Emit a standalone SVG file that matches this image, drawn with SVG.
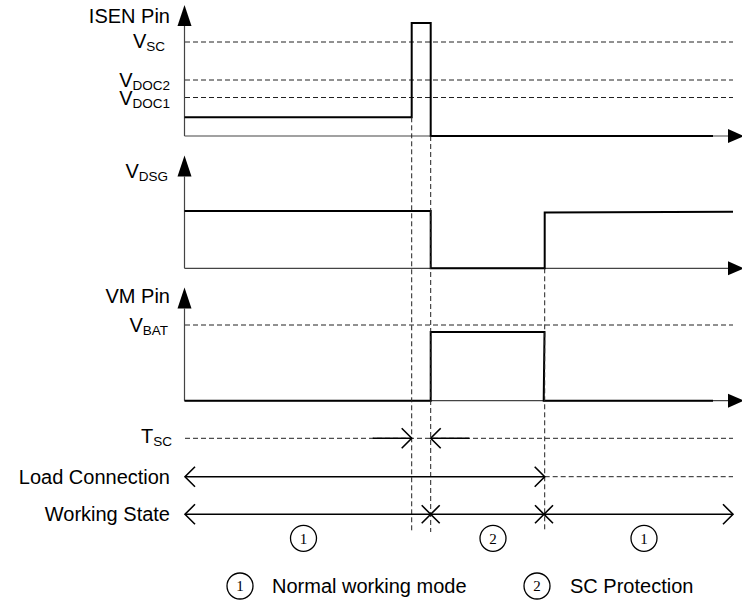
<svg xmlns="http://www.w3.org/2000/svg" width="742" height="605" viewBox="0 0 742 605">
  <style>
    .axis { stroke: #444; stroke-width: 1.2; fill: none; }
    .sig { stroke: #000; stroke-width: 2; fill: none; stroke-linejoin: miter; }
    .ref { stroke: #222; stroke-width: 1; stroke-dasharray: 5 3; fill: none; }
    .tl { stroke: #000; stroke-width: 1.6; fill: none; }
    .lbl { font-family: "Liberation Sans", Arial, sans-serif; font-size: 20px; fill: #000; }
    .sub { font-size: 13.5px; }
    .num { font-family: "Liberation Serif", "Times New Roman", serif; font-size: 15px; fill: #000; text-anchor: middle; }
    .ring { stroke: #000; stroke-width: 1.3; fill: #fff; }
  </style>
  <defs>
    <marker id="tri-v" markerUnits="userSpaceOnUse" viewBox="0 0 21 14" markerWidth="21" markerHeight="14" refX="0" refY="7" orient="auto" overflow="visible">
      <path d="M0,0 L21,7 L0,14 Z" fill="#000"/>
    </marker>
    <marker id="tri-h" markerUnits="userSpaceOnUse" viewBox="0 0 16 14" markerWidth="16" markerHeight="14" refX="0" refY="7" orient="auto" overflow="visible">
      <path d="M0,0 L16,7 L0,14 Z" fill="#000"/>
    </marker>
    <marker id="chev" markerUnits="userSpaceOnUse" viewBox="0 0 12 22" markerWidth="12" markerHeight="22" refX="11" refY="11" orient="auto-start-reverse" overflow="visible">
      <path d="M1,1 L11,11 L1,21" fill="none" stroke="#000" stroke-width="1.6"/>
    </marker>
    <path id="cross" d="M-9,-9 L9,9 M-9,9 L9,-9" stroke="#000" stroke-width="1.6" fill="none"/>
  </defs>

  <!-- ISEN pin waveform -->
  <g id="isen">
    <line class="ref" x1="185" y1="42" x2="733" y2="42"/>
    <line class="ref" x1="185" y1="80" x2="733" y2="80"/>
    <line class="ref" x1="185" y1="97.5" x2="733" y2="97.5"/>
    <line class="axis" x1="184.5" y1="136" x2="184.5" y2="26" marker-end="url(#tri-v)"/>
    <line class="axis" x1="184.5" y1="136" x2="728" y2="136" marker-end="url(#tri-h)"/>
    <polyline class="sig" points="184.5,117.3 411.7,117.3 411.7,23 430.7,23 430.7,136 713,136"/>
    <text class="lbl" x="170" y="23" text-anchor="end">ISEN Pin</text>
    <text class="lbl" x="165" y="48" text-anchor="end">V<tspan class="sub" dy="3">SC</tspan></text>
    <text class="lbl" x="170" y="87" text-anchor="end">V<tspan class="sub" dy="2.5">DOC2</tspan></text>
    <text class="lbl" x="170" y="105" text-anchor="end">V<tspan class="sub" dy="2.5">DOC1</tspan></text>
  </g>

  <!-- discharge gate drive waveform -->
  <g id="vdsg">
    <line class="axis" x1="184.5" y1="268.3" x2="184.5" y2="176.5" marker-end="url(#tri-v)"/>
    <line class="axis" x1="184.5" y1="268.3" x2="728" y2="268.3" marker-end="url(#tri-h)"/>
    <polyline class="sig" points="184.5,211 430.7,211 430.7,268.3 544.7,268.3 544.7,212.5 733,211.7"/>
    <text class="lbl" x="168" y="178" text-anchor="end">V<tspan class="sub" dy="3">DSG</tspan></text>
  </g>

  <!-- VM pin waveform -->
  <g id="vm">
    <line class="ref" x1="185" y1="325" x2="733" y2="325"/>
    <line class="axis" x1="184.5" y1="400.7" x2="184.5" y2="308.5" marker-end="url(#tri-v)"/>
    <line class="axis" x1="184.5" y1="400.7" x2="728" y2="400.7" marker-end="url(#tri-h)"/>
    <polyline class="sig" points="184.5,400.7 430.7,400.7 430.7,332 544.5,332 543.7,400.7 713,400.7"/>
    <text class="lbl" x="170" y="302.5" text-anchor="end">VM Pin</text>
    <text class="lbl" x="168" y="332" text-anchor="end">V<tspan class="sub" dy="3">BAT</tspan></text>
  </g>

  <!-- short-circuit delay -->
  <g id="tsc">
    <line class="ref" x1="185" y1="438.3" x2="733" y2="438.3"/>
    <text class="lbl" x="172" y="443" text-anchor="end">T<tspan class="sub" dy="3">SC</tspan></text>
  </g>

  <!-- load connection -->
  <g id="load">
    <line class="ref" x1="544.7" y1="476.7" x2="733" y2="476.7"/>
    <text class="lbl" x="170" y="483.5" text-anchor="end">Load Connection</text>
  </g>

  <!-- working state -->
  <g id="state">
    <text class="lbl" x="170" y="521" text-anchor="end">Working State</text>
    <circle class="ring" cx="303.5" cy="538.3" r="13"/>
    <text class="num" x="303.5" y="543.5">1</text>
    <circle class="ring" cx="493" cy="538.3" r="13"/>
    <text class="num" x="493" y="543.5">2</text>
    <circle class="ring" cx="644" cy="538.3" r="13"/>
    <text class="num" x="644" y="543.5">1</text>
  </g>

  <!-- legend -->
  <g id="legend">
    <circle class="ring" cx="240" cy="586" r="13"/>
    <text class="num" x="240" y="591.2">1</text>
    <text class="lbl" x="272" y="592.5">Normal working mode</text>
    <circle class="ring" cx="537" cy="586" r="13"/>
    <text class="num" x="537" y="591.2">2</text>
    <text class="lbl" x="570" y="592.5">SC Protection</text>
  </g>

  <!-- timing markers and time-span arrows -->
  <g id="connectors">
    <line class="ref" x1="411.7" y1="117.3" x2="411.7" y2="532"/>
    <line class="ref" x1="430.7" y1="136" x2="430.7" y2="532"/>
    <line class="ref" x1="544.7" y1="268.3" x2="544.7" y2="532"/>
    <line class="tl" x1="372.7" y1="438.3" x2="411.7" y2="438.3" marker-end="url(#chev)"/>
    <line class="tl" x1="469.3" y1="438.3" x2="430.7" y2="438.3" marker-end="url(#chev)"/>
    <line class="tl" x1="185" y1="476.7" x2="544.7" y2="476.7" marker-start="url(#chev)" marker-end="url(#chev)"/>
    <line class="tl" x1="185" y1="514.3" x2="733" y2="514.3" marker-start="url(#chev)" marker-end="url(#chev)"/>
    <use href="#cross" x="430.7" y="514.3"/>
    <use href="#cross" x="544" y="514.3"/>
  </g>
</svg>
